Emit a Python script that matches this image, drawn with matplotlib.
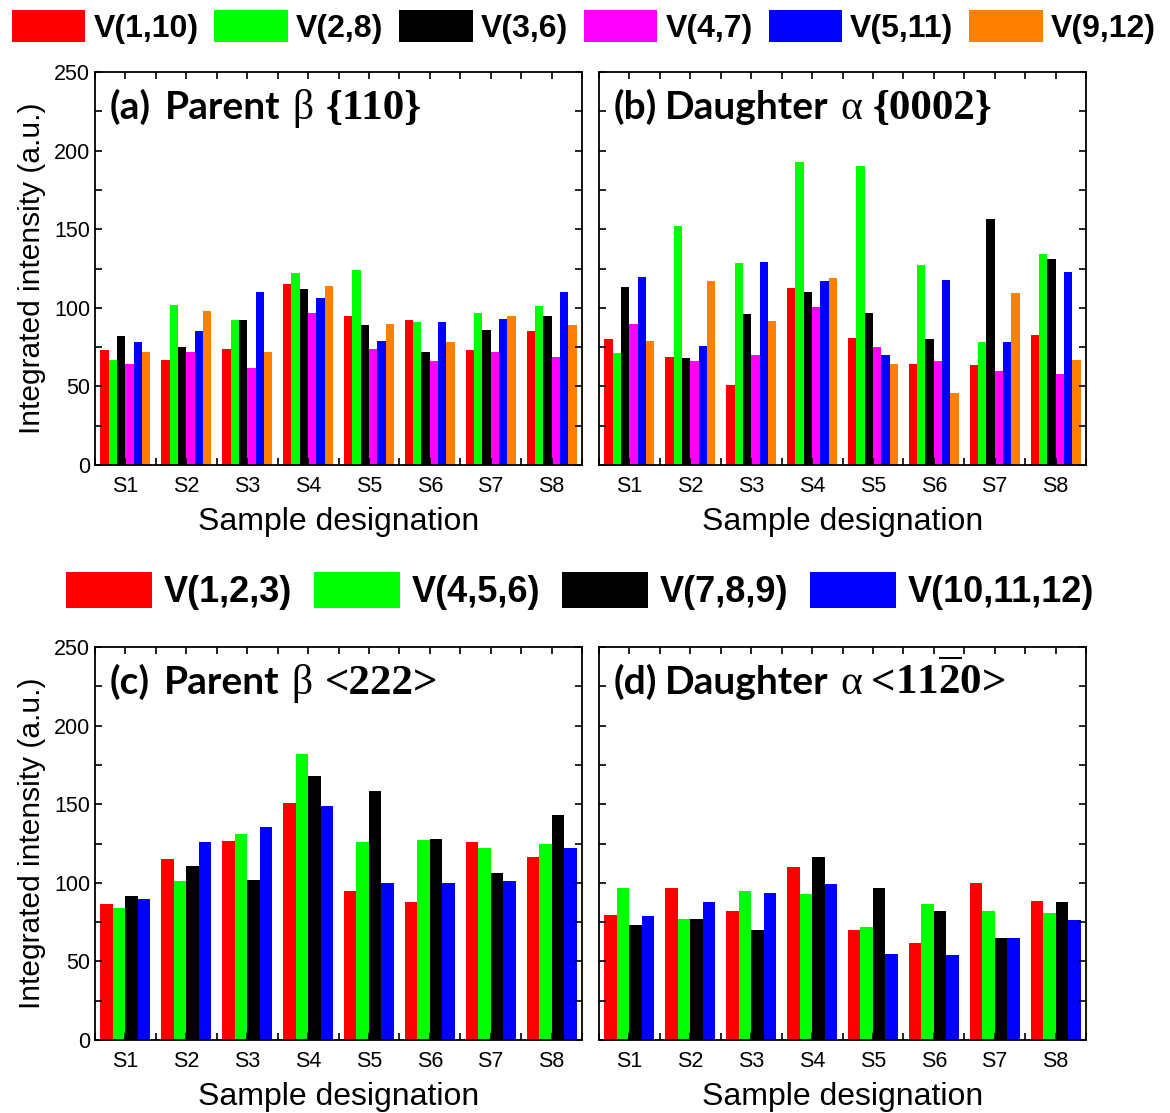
import numpy as np
import matplotlib
matplotlib.use('Agg')
import matplotlib.pyplot as plt
from matplotlib.patches import Patch
from matplotlib.ticker import MultipleLocator

plt.rcParams['font.family'] = ['Liberation Sans', 'DejaVu Sans']
plt.rcParams['mathtext.fontset'] = 'custom'
plt.rcParams['mathtext.rm'] = 'Liberation Serif'
plt.rcParams['mathtext.it'] = 'Liberation Serif'
plt.rcParams['mathtext.bf'] = 'Liberation Serif:bold'

samples = ['S1', 'S2', 'S3', 'S4', 'S5', 'S6', 'S7', 'S8']

# 6 variant pairs
pair_labels = ['V(1,10)', 'V(2,8)', 'V(3,6)', 'V(4,7)', 'V(5,11)', 'V(9,12)']
pair_colors = ['#ff0000', '#00ff00', '#000000', '#ff00ff', '#0000ff', '#ff8000']

# (a) parent beta {110}
beta110 = [
    [73, 66.5, 74, 115, 95, 92, 73, 85],     # V(1,10)
    [67, 102, 92, 122, 124, 91, 97, 101],    # V(2,8)
    [82, 75, 92, 112, 89, 72, 86, 95],       # V(3,6)
    [64, 72, 62, 97, 74, 66, 72, 69],        # V(4,7)
    [78, 85, 110, 106, 79, 91, 93, 110],     # V(5,11)
    [72, 98, 72, 114, 90, 78, 95, 89],       # V(9,12)
]

# (b) daughter alpha {0002}
alpha0002 = [
    [80, 69, 50.6, 112.5, 81, 64.4, 63.4, 83],
    [71.5, 152, 128.6, 193, 190, 127, 78, 134.5],
    [113, 68, 96, 110, 97, 80, 156.5, 131],
    [90, 66, 70, 100.5, 75, 66, 60, 58],
    [119.5, 76, 129, 117, 70, 118, 78, 123],
    [79, 117, 91.6, 119, 64, 46, 109.5, 66.5],
]

# 4 variant triplets
trip_labels = ['V(1,2,3)', 'V(4,5,6)', 'V(7,8,9)', 'V(10,11,12)']
trip_colors = ['#ff0000', '#00ff00', '#000000', '#0000ff']

# (c) parent beta <222>
beta222 = [
    [86.7, 115, 126.5, 150.7, 95, 88, 126, 116.7],
    [84, 101, 131, 182, 126, 127, 122, 125],
    [91.4, 111, 102, 168, 158.6, 127.8, 106, 143],
    [90, 126, 135.6, 149, 100, 100, 101, 122],
]

# (d) daughter alpha <11-20>
alpha1120 = [
    [79.7, 97, 82, 110, 70, 62, 99.8, 88.6],
    [96.7, 77, 94.6, 93, 71.6, 86.6, 82, 80.5],
    [73.3, 77, 70, 116.6, 97, 82, 64.6, 88],
    [79, 88, 93.5, 99.5, 55, 54, 64.6, 76.5],
]

# panel titles: sans label + greek letter + bold serif index
sans = dict(fontsize=28, fontweight='bold', family=['Lato', 'DejaVu Sans'])
greek = dict(fontsize=30, family=['Liberation Serif', 'DejaVu Serif'])
index = dict(fontsize=31, fontweight='bold', family=['Liberation Serif', 'DejaVu Serif'])
titles = [
    [('(a)', sans, 14), ('Parent', sans, 12), ('\u03b2', greek, 12), ('{110}', index, 0)],
    [('(b)', sans, 8), ('Daughter', sans, 12), ('\u03b1', greek, 10), ('{0002}', index, 0)],
    [('(c)', sans, 14), ('Parent', sans, 12), ('\u03b2', greek, 12), ('<222>', index, 0)],
    [('(d)', sans, 8), ('Daughter', sans, 12), ('\u03b1', greek, 8),
     ('<', index, 0), (r'$\mathbf{11\overline{2}0}$', index, 0), ('>', index, 0)],
]

fig = plt.figure(figsize=(11.7, 11.13), dpi=100)
renderer = fig.canvas.get_renderer()
W, H = 1170, 1113
boxes = [(95, 72), (599, 72), (95, 647), (599, 647)]
aw, ah = 487, 393

datasets = [(beta110, pair_colors), (alpha0002, pair_colors),
            (beta222, trip_colors), (alpha1120, trip_colors)]


def draw_title(ax, x0, y0, pieces):
    # place the pieces one after another on a common baseline
    x = x0
    for s, kw, gap in pieces:
        t = ax.text(x, y0, s, transform=ax.transAxes, ha='left', va='baseline', **kw)
        ext = t.get_window_extent(renderer)
        x = ax.transAxes.inverted().transform((ext.x1 + gap, 0))[0]


x = np.arange(1, len(samples) + 1)
for k, ((left, top), (data, colors), title) in enumerate(zip(boxes, datasets, titles)):
    ax = fig.add_axes([left / W, 1 - (top + ah) / H, aw / W, ah / H])
    n = len(data)
    w = 0.82 / n
    for j, (vals, c) in enumerate(zip(data, colors)):
        ax.bar(x + (j - (n - 1) / 2) * w, vals, width=w, color=c, linewidth=0)
    ax.set_xlim(0.5, 8.5)
    ax.set_ylim(0, 250)
    ax.set_xticks(x)
    ax.set_xticklabels(samples)
    ax.xaxis.set_minor_locator(MultipleLocator(0.5))
    ax.yaxis.set_major_locator(MultipleLocator(50))
    ax.yaxis.set_minor_locator(MultipleLocator(25))
    ax.tick_params(which='both', direction='in', top=True, right=True,
                   length=5, width=1.2, labelsize=15.5)
    ax.tick_params(axis='x', pad=8)
    for sp in ax.spines.values():
        sp.set_linewidth(1.3)
    ax.set_xlabel('Sample designation', fontsize=23, labelpad=7)
    if k % 2 == 0:
        ax.set_ylabel('Integrated intensity (a.u.)', fontsize=21.5, labelpad=6)
    else:
        ax.set_yticklabels([])
    draw_title(ax, 0.03, 0.88, title)

leg_font = {'family': ['Liberation Sans Narrow', 'Liberation Sans'], 'weight': 'bold', 'size': 23}

h1 = [Patch(facecolor=c, edgecolor='none') for c in pair_colors]
fig.legend(h1, pair_labels, loc='center', bbox_to_anchor=(0.499, 1 - 27 / H), ncol=6,
           frameon=False, prop=leg_font, handlelength=2.3, handleheight=1.15,
           handletextpad=0.25, columnspacing=0.5, borderaxespad=0)

h2 = [Patch(facecolor=c, edgecolor='none') for c in trip_colors]
fig.legend(h2, trip_labels, loc='center', bbox_to_anchor=(0.496, 1 - 591 / H), ncol=4,
           frameon=False, prop={**leg_font, 'size': 26}, handlelength=2.38, handleheight=1.16,
           handletextpad=0.33, columnspacing=0.6, borderaxespad=0)

fig.savefig('out.png', dpi=100)
